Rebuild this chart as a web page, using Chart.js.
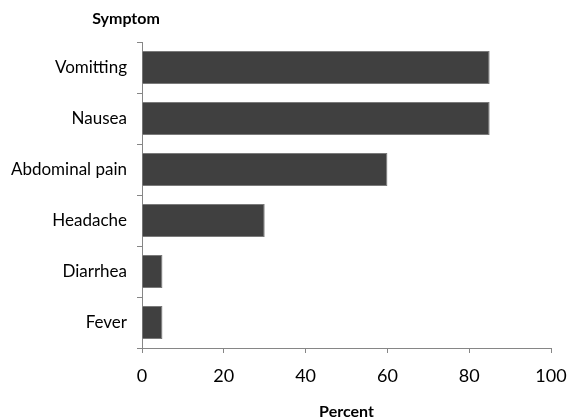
<!DOCTYPE html>
<html>
<head>
<meta charset="utf-8">
<script src="https://cdn.jsdelivr.net/npm/chart.js@4"></script>
<style>
    html, body { margin: 0; padding: 0; background: #fff; }
    #wrap { width: 568px; height: 419px; }
</style>
</head>
<body>
<div id="wrap"><canvas id="symptomChart" width="568" height="419"></canvas></div>
<script>
// Chart data
const symptoms = ['Vomitting', 'Nausea', 'Abdominal pain', 'Headache', 'Diarrhea', 'Fever'];
const percents = [85, 85, 60, 30, 5, 5];
const percentTicks = [0, 20, 40, 60, 80, 100];

const FONT = 'Lato, "Open Sans", sans-serif';
const AXIS_GREY = '#868686';

// Draws the "Symptom" heading above the category labels
const headingPlugin = {
    id: 'heading',
    afterDraw(chart) {
        const ctx = chart.ctx;
        ctx.save();
        ctx.font = 'bold 16px ' + FONT;
        ctx.fillStyle = '#000';
        ctx.textAlign = 'center';
        ctx.textBaseline = 'middle';
        ctx.fillText('Symptom', chart.chartArea.left - 16, 19);
        ctx.restore();
    }
};

const ctx = document.getElementById('symptomChart').getContext('2d');
new Chart(ctx, {
    type: 'bar',
    data: {
        labels: symptoms,
        datasets: [{
            label: 'Percent',
            data: percents,
            backgroundColor: '#404040',
            borderColor: '#7a7a7a',
            borderWidth: 1,
            barPercentage: 0.65,
            categoryPercentage: 1
        }]
    },
    options: {
        indexAxis: 'y',
        responsive: false,
        animation: false,
        layout: {
            padding: { top: 42, right: 17, bottom: 0, left: 0 }
        },
        plugins: {
            legend: { display: false },
            tooltip: { enabled: false }
        },
        scales: {
            x: {
                min: 0,
                max: 100,
                afterBuildTicks(scale) {
                    scale.ticks = percentTicks.map(v => ({ value: v }));
                },
                grid: {
                    drawOnChartArea: false,
                    drawTicks: true,
                    tickLength: 5,
                    color: AXIS_GREY
                },
                border: { color: AXIS_GREY, width: 1 },
                ticks: {
                    color: '#000',
                    padding: 12,
                    maxRotation: 0,
                    font: { family: FONT, size: 18 }
                },
                title: {
                    display: true,
                    text: 'Percent',
                    color: '#000',
                    padding: { top: 8, bottom: -2 },
                    font: { family: FONT, size: 16, weight: 'bold' }
                },
                afterFit(scale) {
                    scale.height = 71;
                    scale.paddingLeft = 0;
                    scale.paddingRight = 0;
                }
            },
            y: {
                grid: {
                    drawOnChartArea: false,
                    drawTicks: true,
                    tickLength: 5,
                    offset: true,
                    color: AXIS_GREY
                },
                border: { color: AXIS_GREY, width: 1 },
                ticks: {
                    color: '#000',
                    padding: 10,
                    font: { family: FONT, size: 17 }
                },
                afterFit(scale) {
                    scale.width = 142;
                }
            }
        }
    },
    plugins: [headingPlugin]
});
</script>
</body>
</html>
